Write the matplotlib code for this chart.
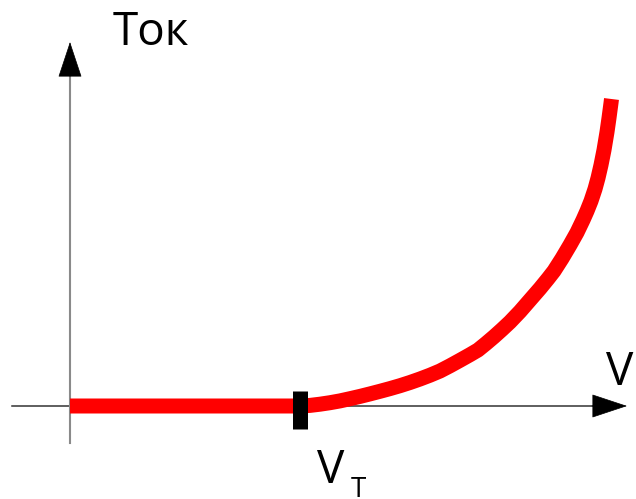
import matplotlib
matplotlib.use("Agg")
import matplotlib.pyplot as plt

# data, in pixel-like units with the origin where the axes cross
seuil_vt = 230
courbe_x = [0, 100, 230, 240, 250, 260, 270, 280, 290, 300, 310, 320, 330,
            340, 350, 360, 370, 380, 390, 400, 408, 416, 424, 432, 440,
            450, 460, 470, 478, 484, 492, 500, 507, 513, 517, 521, 525,
            528, 531, 534, 537, 539, 541, 541.5]
courbe_y = [0, 0, 0, 0.6, 1.8, 3.3, 5.1, 7.3, 9.6, 12.1, 14.7, 17.4, 20.3,
            23.5, 27, 30.8, 35, 40.2, 45.7, 51.3, 56, 62.5, 69.3, 76.5, 84,
            94.5, 106, 117.5, 127.3, 135, 147.5, 161, 173.5, 186, 195, 205, 217,
            228, 241, 256, 274, 288, 303, 307]

label_y = "Ток"
label_x = "V"
label_vt = "V"
label_vt_sub = "T"

plt.rcParams['font.family'] = ['Open Sans', 'DejaVu Sans']

fig = plt.figure(figsize=(6.36, 4.99), dpi=100)
ax = fig.add_axes([0, 0, 1, 1])
ax.set_xlim(-70, 566)
ax.set_ylim(-93, 406)
ax.axis("off")

# axes with arrow heads
ax.plot([-58, 525], [0, 0], color="#333333", lw=1.1, zorder=1)
ax.plot([0, 0], [-37, 333], color="#8a8a8a", lw=1.5, zorder=1)
fleche = dict(arrowstyle="-|>,head_length=2.38,head_width=0.79", color="black",
              lw=0.5, shrinkA=0, shrinkB=0, mutation_scale=10)
ax.annotate("", xy=(557, 0), xytext=(522, 0), arrowprops=fleche)
ax.annotate("", xy=(0, 364), xytext=(0, 330), arrowprops=fleche)

# current curve
ax.plot(courbe_x, courbe_y, color="#ff0000", lw=10.8,
        solid_capstyle="butt", solid_joinstyle="round", zorder=2)

# threshold mark
ax.plot([seuil_vt, seuil_vt], [-23, 15], color="black", lw=10.8,
        solid_capstyle="butt", zorder=3)

ax.text(43, 361, label_y, fontsize=33, ha="left", va="baseline")
ax.text(536, 21, label_x, fontsize=33, ha="left", va="baseline", clip_on=False)
ax.text(247, -77, label_vt, fontsize=33, ha="left", va="baseline")
ax.text(281, -91, label_vt_sub, fontsize=20, ha="left", va="baseline")

fig.savefig("out.png", dpi=100)
